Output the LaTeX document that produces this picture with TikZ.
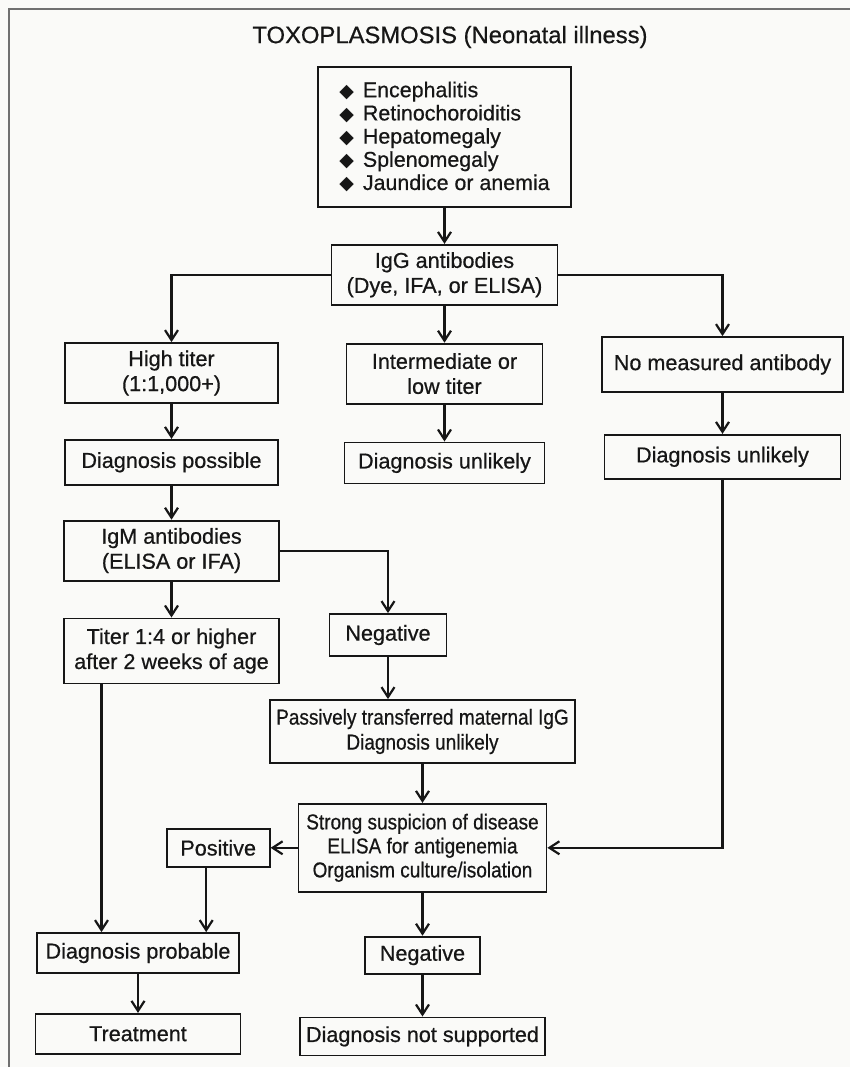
\documentclass[tikz,border=0pt]{standalone}
\usepackage{fontspec}
\setmainfont[FakeBold=0.6]{Liberation Sans}
\newfontfamily\narrowfont[FakeStretch=0.88,FakeBold=0.6]{Liberation Sans}
\newfontfamily\dingfont{DejaVu Sans}
\usetikzlibrary{arrows.meta,positioning}
\definecolor{paper}{HTML}{FAFAF8}
\definecolor{framegrey}{HTML}{707070}
\definecolor{ink}{HTML}{161616}
\newcommand{\symitem}{{\dingfont\fontsize{9.5}{9.5}\selectfont ◆}\hspace{4.5pt}}

\begin{document}
\begin{tikzpicture}[x=0.5pt, y=-0.5pt,
    every node/.style={font=\fontsize{10.8}{12.5}\selectfont, text=ink},
    box/.style={draw=ink, line width=0.9pt, inner sep=2pt, align=center},
    link/.style={draw=ink, line width=1.1pt, -{Straight Barb[length=5pt,width=6.5pt]}}]
      \fill[paper] (0,0) rectangle (850,1067);
      \useasboundingbox (0,0) rectangle (850,1067);
      \draw[framegrey, line width=0.75pt] (850,9) -- (9,9) -- (9,1067);

      % signs and first test
      \node[font=\fontsize{11.9}{13}\selectfont] (title) at (450,37) {TOXOPLASMOSIS (Neonatal illness)};
      \node[box,align=left,minimum width=126.5pt,minimum height=70pt,font=\fontsize{10.7}{11.6}\selectfont] (signs) at (444.5,137)
        {\symitem Encephalitis\\ \symitem Retinochoroiditis\\ \symitem Hepatomegaly\\ \symitem Splenomegaly\\ \symitem Jaundice or anemia};
      \node[box,minimum width=113pt,minimum height=30pt,below=18pt of signs] (igg) {IgG antibodies\\(Dye, IFA, or ELISA)};

      % three IgG results
      \node[box,minimum width=106.5pt,minimum height=30pt] (high) at (171.5,373) {High titer\\(1:1,000+)};
      \node[box,minimum width=98pt,minimum height=30pt,below=18.5pt of igg] (inter) {Intermediate or\\low titer};
      \node[box,minimum width=120.5pt,minimum height=27.5pt] (nomeas) at (722.5,364.5) {No measured antibody};
      \node[box,minimum width=106.5pt,minimum height=22.5pt,below=17.5pt of high] (possible) {Diagnosis possible};
      \node[box,minimum width=100pt,minimum height=20.5pt,below=18.5pt of inter] (unlikelyA) {Diagnosis unlikely};
      \node[box,minimum width=118pt,minimum height=22pt,below=20.5pt of nomeas] (unlikelyB) {Diagnosis unlikely};

      % IgM branch
      \node[box,minimum width=107.5pt,minimum height=30pt,below=17pt of possible] (igm) {IgM antibodies\\(ELISA or IFA)};
      \node[box,minimum width=107.5pt,minimum height=32.5pt,below=18pt of igm] (titer) {Titer 1:4 or higher\\after 2 weeks of age};
      \node[box,minimum width=58.5pt,minimum height=21pt] (negA) at (388,635) {Negative};
      \node[box,minimum width=152.5pt,minimum height=31.5pt,font=\narrowfont\fontsize{10.8}{12.5}\selectfont] (passive) at (422.5,731.5)
        {Passively transferred maternal IgG\\Diagnosis unlikely};
      \node[box,minimum width=124pt,minimum height=44pt,below=19.5pt of passive,font=\narrowfont\fontsize{10.8}{12}\selectfont] (suspect)
        {Strong suspicion of disease\\ELISA for antigenemia\\Organism culture/isolation};

      % outcomes
      \node[box,minimum width=51.5pt,minimum height=19pt,left=13.5pt of suspect] (posit) {Positive};
      \node[box,minimum width=57.5pt,minimum height=18.5pt,below=21.5pt of suspect] (negB) {Negative};
      \node[box,minimum width=122.5pt,minimum height=19pt,below=21pt of negB] (notsupp) {Diagnosis not supported};
      \node[box,minimum width=101pt,minimum height=20pt] (probable) at (138,953) {Diagnosis probable};
      \node[box,minimum width=102.5pt,minimum height=20pt,below=19.5pt of probable] (treat) {Treatment};

      \draw[link] (signs) -- (igg);
      \draw[link] (igg.west) -| (high.north);
      \draw[link] (igg) -- (inter);
      \draw[link] (igg.east) -| (nomeas.north);
      \draw[link] (high) -- (possible);
      \draw[link] (inter) -- (unlikelyA);
      \draw[link] (nomeas) -- (unlikelyB);
      \draw[link] (possible) -- (igm);
      \draw[link] (igm) -- (titer);
      \draw[link] (igm.east) -| (negA.north);
      \draw[link] (negA.south) -- (negA.south |- passive.north);
      \draw[link] (passive) -- (suspect);
      \draw[link] (unlikelyB.south) |- (suspect.east);
      \draw[link] (suspect) -- (posit);
      \draw[link] ([xshift=-6pt]posit.south) -- ([xshift=-6pt]posit.south |- probable.north);
      \draw[link] ([xshift=-35pt]titer.south) -- ([xshift=-35pt]titer.south |- probable.north);
      \draw[link] (suspect) -- (negB);
      \draw[link] (negB) -- (notsupp);
      \draw[link] (probable) -- (treat);
    \end{tikzpicture}
\end{document}
